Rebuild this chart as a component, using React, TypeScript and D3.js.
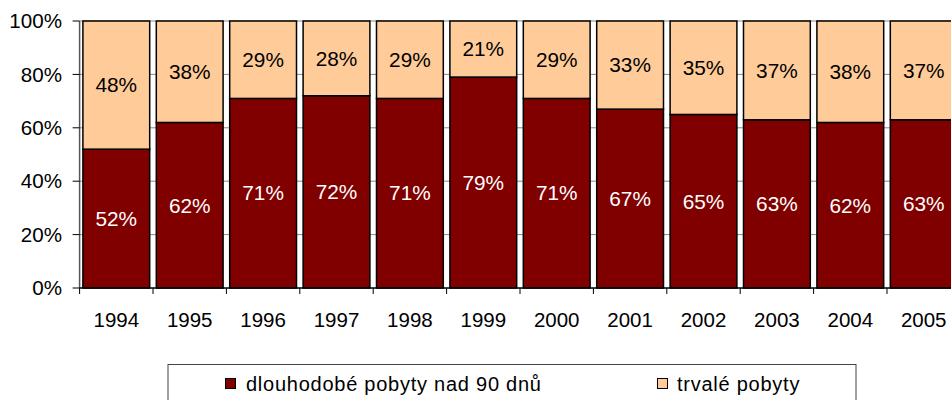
import React from "react";
import * as d3 from "d3";

const years = ["1994","1995","1996","1997","1998","1999","2000","2001","2002","2003","2004","2005"];
const longTerm = [52,62,71,72,71,79,71,67,65,63,62,63];
const permanent = [48,38,29,28,29,21,29,33,35,37,38,37];
const yTicks = [0,20,40,60,80,100];
const seriesNames = ["dlouhodobé pobyty nad 90 dnů", "trvalé pobyty"];
const colors = ["#800000", "#FFCC99"];

export default function App() {
  const W = 951, H = 400;
  const left = 79.6, top = 21, bottom = 288;
  const band = 73.4;
  const x = d3.scaleBand<string>().domain(years).range([left, left + band * years.length]).paddingInner(0.09).paddingOuter(0.045);
  const y = d3.scaleLinear().domain([0, 100]).range([bottom, top]);
  const font = "'Liberation Sans', Arial, sans-serif";
  const data = years.map((yr, i) => ({ yr, a: longTerm[i], b: permanent[i] }));
  const stack = d3.stack<any>().keys(["a", "b"])(data as any);
  return (
    <svg width={W} height={H} style={{ position: "absolute", left: 0, top: 0, background: "#fff" }} fontFamily={font}>
      {yTicks.filter(t => t > 0).map(t => (
        <line key={t} x1={left} x2={W} y1={y(t)} y2={y(t)} stroke="#888" strokeWidth={1} />
      ))}
      {stack.map((s, si) => s.map((d, i) => {
        const y0 = y(d[0]), y1 = y(d[1]);
        const bx = x(years[i])!;
        const v = si === 0 ? longTerm[i] : permanent[i];
        return (
          <g key={si + "-" + i}>
            <rect x={bx} y={y1} width={x.bandwidth()} height={y0 - y1} fill={colors[si]} stroke="#000" strokeWidth={1.5} />
            <text x={bx + x.bandwidth() / 2} y={(y0 + y1) / 2} dy="0.35em" textAnchor="middle" fontSize={20.8} fill={si === 0 ? "#fff" : "#000"}>{v}%</text>
          </g>
        );
      }))}
      <line x1={left} x2={left} y1={top} y2={bottom} stroke="#555" strokeWidth={1.5} />
      <line x1={left} x2={W} y1={bottom} y2={bottom} stroke="#000" strokeWidth={1.5} />
      {yTicks.map(t => (
        <g key={t}>
          <line x1={left - 7} x2={left} y1={y(t)} y2={y(t)} stroke="#000" strokeWidth={1} />
          <text x={62} y={y(t)} dy="0.35em" textAnchor="end" fontSize={20.6} fill="#000">{t}%</text>
        </g>
      ))}
      {d3.range(years.length + 1).map(i => (
        <line key={i} x1={left + band * i} x2={left + band * i} y1={bottom} y2={bottom + 6} stroke="#000" strokeWidth={1} />
      ))}
      {years.map(yr => (
        <text key={yr} x={x(yr)! + x.bandwidth() / 2} y={320} dy="0.35em" textAnchor="middle" fontSize={20.5} fill="#000">{yr}</text>
      ))}
      <rect x={168} y={364.5} width={688} height={60} fill="#fff" stroke="#444" strokeWidth={1} />
      <rect x={225.5} y={378.5} width={10} height={10} fill={colors[0]} stroke="#000" strokeWidth={1} />
      <text x={246} y={391} fontSize={20} letterSpacing={0.75} fill="#000">{seriesNames[0]}</text>
      <rect x={657.5} y={378.5} width={10} height={10} fill={colors[1]} stroke="#000" strokeWidth={1} />
      <text x={677} y={391} fontSize={20} letterSpacing={0.75} fill="#000">{seriesNames[1]}</text>
    </svg>
  );
}
